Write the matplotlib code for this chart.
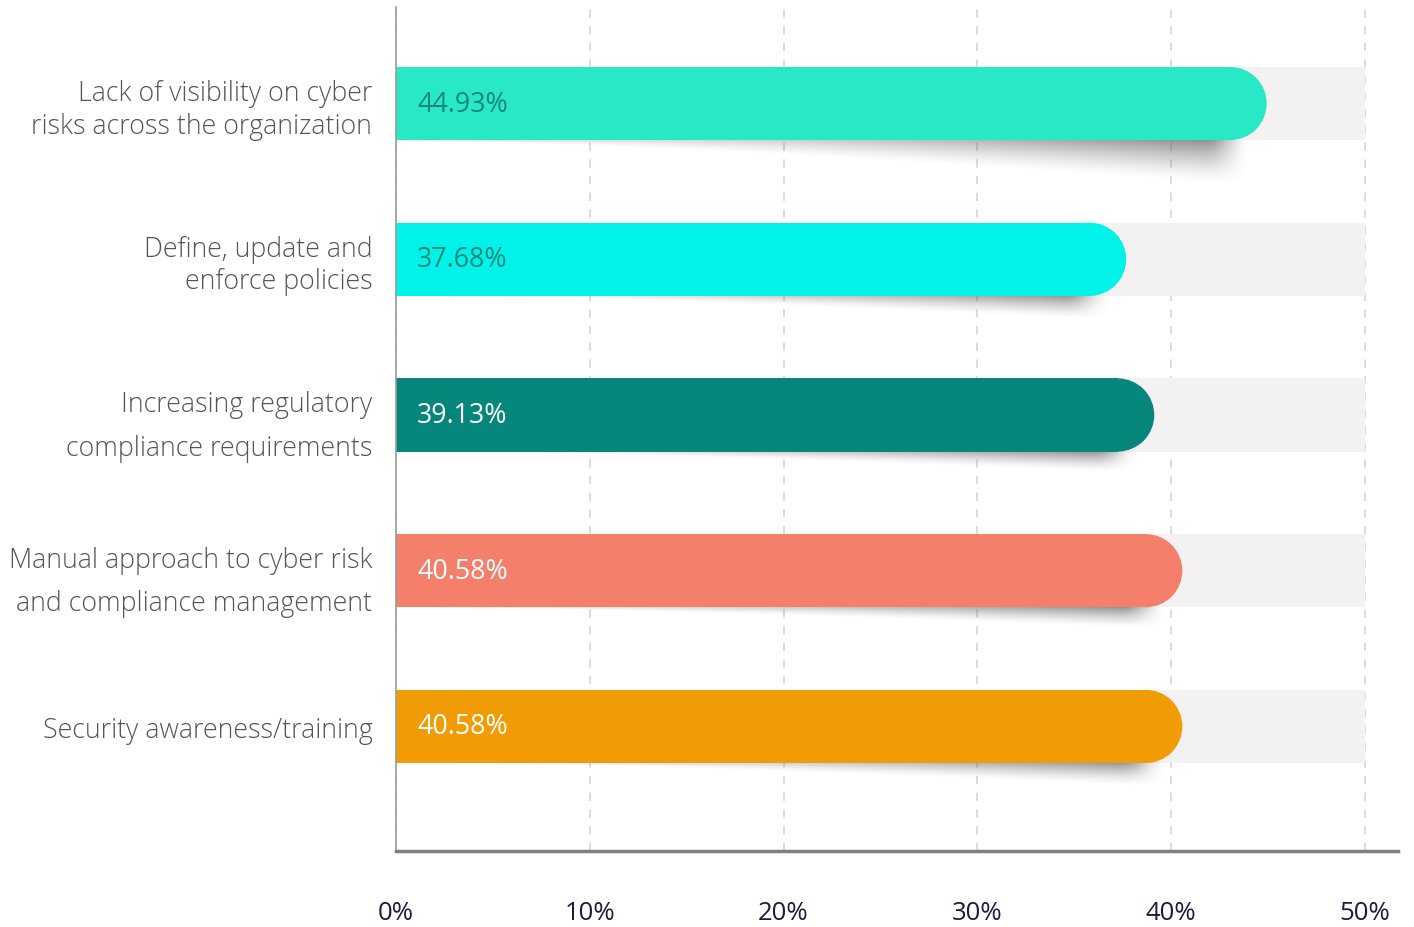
import numpy as np
import matplotlib.pyplot as plt
from matplotlib.patches import Rectangle, Ellipse

# ---- data ----
categories = ['Lack of visibility on cyber\nrisks across the organization',
              'Define, update and\nenforce policies',
              'Increasing regulatory\ncompliance requirements',
              'Manual approach to cyber risk\nand compliance management',
              'Security awareness/training']
values = [44.93, 37.68, 39.13, 40.58, 40.58]
value_labels = ['44.93%', '37.68%', '39.13%', '40.58%', '40.58%']
xticks = [0, 10, 20, 30, 40, 50]
xtick_labels = ['0%', '10%', '20%', '30%', '40%', '50%']

# ---- styles ----
bar_colors = ['#29e8c5', '#00f2e8', '#07877c', '#f4806b', '#f29c05']
text_colors = ['#14887a', '#14887a', 'white', 'white', 'white']
shadow_depth = [0.28, 0.15, 0.13, 0.13, 0.15]
label_spacing = [1.22, 1.22, 1.72, 1.72, 1.0]

plt.rcParams['font.family'] = ['Open Sans', 'DejaVu Sans']

W, H = 14.14, 9.28
fig = plt.figure(figsize=(W, H), dpi=100)
ax_box = [0.280, 0.0819, 0.7086, 0.9095]
ax = fig.add_axes(ax_box)

xmax = 51.7
ymin, ymax = -0.62, 4.80
bar_h = 0.47

# radius of the rounded bar end, in data units
ax_w_px = ax_box[2] * W * 100
ax_h_px = ax_box[3] * H * 100
r_px = bar_h * ax_h_px / (ymax - ymin) / 2
rx = r_px * xmax / ax_w_px

for i, v in enumerate(values):
    # grey track
    ax.add_patch(Rectangle((0, i - bar_h / 2), 50, bar_h, color='#f3f1f1',
                           lw=0, zorder=1))

    # soft shadow under the bar
    yb = i + bar_h / 2
    dmax = shadow_depth[i]
    x0, x1 = 5.0, v - 2.5
    xs = np.linspace(0, v, 500)
    ss = np.linspace(0, dmax, 60)
    X, S = np.meshgrid(xs, ss)
    t = np.clip((X - x0) / (x1 - x0), 0, 1)
    d = dmax * (0.06 + 0.94 * t ** 1.3)
    vert = np.clip(1 - S / d, 0, 1) ** 1.4
    right = np.clip((v - 0.8 - X) / 2.4, 0, 1)
    right = right * right * (3 - 2 * right)
    left = np.clip(X / x0, 0, 1)
    alpha = 0.65 * (0.25 + 0.75 * t ** 1.6) * vert * right * left
    img = np.zeros((len(ss), len(xs), 4))
    img[..., :3] = 0.33
    img[..., 3] = alpha
    ax.imshow(img, extent=(0, v, yb + dmax, yb), origin='upper',
              aspect='auto', zorder=1.5, interpolation='bilinear')

    # bar with rounded right end
    ax.add_patch(Rectangle((0, i - bar_h / 2), v - rx, bar_h,
                           color=bar_colors[i], lw=0, zorder=2))
    ax.add_patch(Ellipse((v - rx, i), 2 * rx, bar_h,
                         color=bar_colors[i], lw=0, zorder=2))
    ax.text(1.1, i, value_labels[i], color=text_colors[i], fontsize=19.3,
            va='center', ha='left', zorder=3)

ax.set_xlim(0, xmax)
ax.set_ylim(ymax, ymin)

ax.set_xticks(xticks)
ax.set_xticklabels(xtick_labels, fontsize=18.5, color='#1e1b3f')
ax.set_yticks(range(len(categories)))
ax.set_yticklabels(categories, fontsize=19.3, color='#555555',
                   fontweight='light')
for lab, ls in zip(ax.get_yticklabels(), label_spacing):
    lab.set_linespacing(ls)
ax.tick_params(axis='x', length=0, pad=35)
ax.tick_params(axis='y', length=0, pad=17)

ax.grid(axis='x', linestyle=(0, (5, 5)), color='#d6d6d6', lw=1.2)
ax.set_axisbelow(True)

for side in ['top', 'right']:
    ax.spines[side].set_visible(False)
ax.spines['left'].set_color('#9a9a9a')
ax.spines['left'].set_linewidth(1.2)
ax.spines['bottom'].set_color('#7f7f7f')
ax.spines['bottom'].set_linewidth(2.5)

fig.savefig('out.png', dpi=100)
